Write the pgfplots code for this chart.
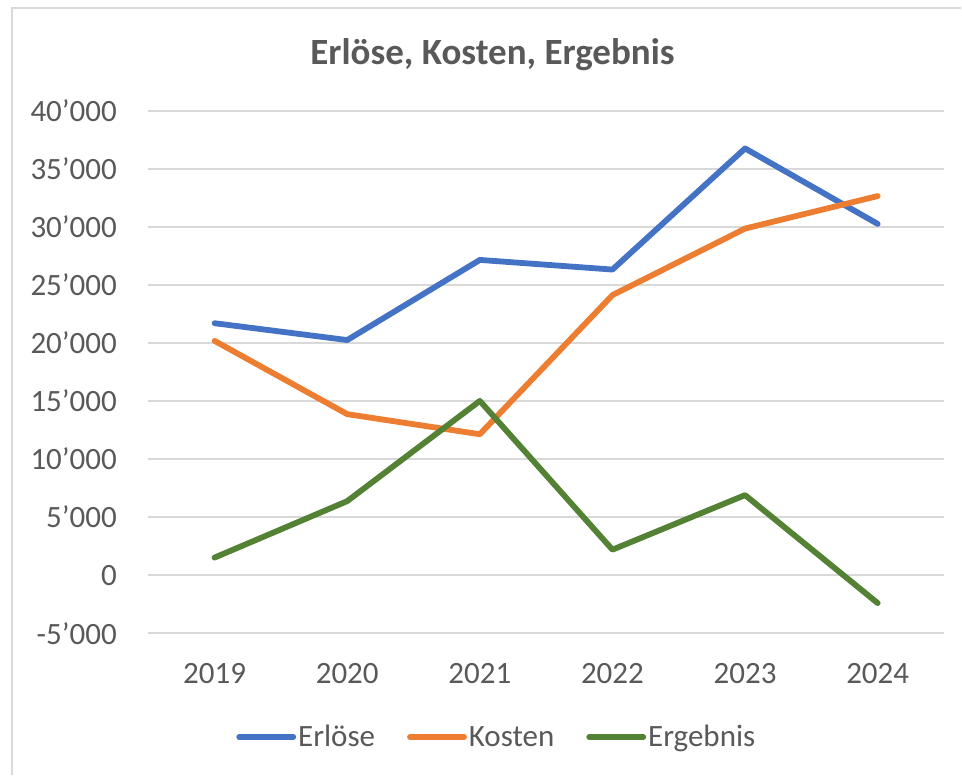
\documentclass[border=0pt]{standalone}
\usepackage{fontspec}
\setmainfont{Carlito}
\usepackage{pgfplots}
\pgfplotsset{compat=1.18}
\definecolor{cblue}{HTML}{4472C4}
\definecolor{corange}{HTML}{ED7D31}
\definecolor{cgreen}{HTML}{548235}
\definecolor{ctext}{HTML}{595959}
\definecolor{cgrid}{HTML}{D9D9D9}
\tikzset{dataline/.style={line width=5.8pt, line join=round, line cap=round}}
\begin{document}
\begin{tikzpicture}
\begin{axis}[
  width=795.7pt, height=522.6pt, scale only axis,
  xmin=-0.5, xmax=5.5, ymin=-5000, ymax=40000,
  xtick={0,1,2,3,4,5}, xticklabels={2019,2020,2021,2022,2023,2024},
  ytick={-5000,0,5000,10000,15000,20000,25000,30000,35000,40000},
  yticklabels={-5’000,0,5’000,10’000,15’000,20’000,25’000,30’000,35’000,40’000},
  scaled y ticks=false,
  axis line style={draw=none},
  major tick length=0pt,
  ymajorgrids, grid style={cgrid, line width=1.8pt},
  tick label style={text=ctext, font=\fontsize{31}{37}\selectfont},
  yticklabel style={anchor=east, inner sep=0pt, xshift=-31.3pt},
  xticklabel style={anchor=base, inner sep=0pt, yshift=-50pt},
  legend columns=3,
  legend style={at={(axis description cs:0.438,-0.1984)}, anchor=center, draw=none, fill=none,
    font=\fontsize{31}{37}\selectfont, text=ctext, nodes={inner sep=2pt},
    /tikz/every even column/.append style={column sep=30pt}},
  legend image code/.code={\draw[#1] (0pt,0pt) -- (54pt,0pt);},
]
\coordinate (O) at (rel axis cs:0,0);
\addplot[cblue, dataline, mark=none] coordinates {(0,21700) (1,20250) (2,27150) (3,26320) (4,36750) (5,30250)};
\addlegendentry{Erlöse}
\addplot[corange, dataline, mark=none] coordinates {(0,20180) (1,13870) (2,12140) (3,24120) (4,29850) (5,32650)};
\addlegendentry{Kosten}
\addplot[cgreen, dataline, mark=none] coordinates {(0,1520) (1,6380) (2,15010) (3,2200) (4,6900) (5,-2400)};
\addlegendentry{Ergebnis}
\end{axis}
\begin{scope}[shift={(O)}, x=1pt, y=1pt]
\begin{scope}[shift={(-148.3,-142.7)}]
\path (0,0) rectangle (962,776);
\draw[cgrid, line width=2pt] (12,1) -- (12,768) -- (961,768);
\node[anchor=base, text=ctext, font=\fontsize{37}{44}\selectfont\bfseries] at (492.5,711) {Erlöse, Kosten, Ergebnis};
\end{scope}
\end{scope}
\end{tikzpicture}
\end{document}
